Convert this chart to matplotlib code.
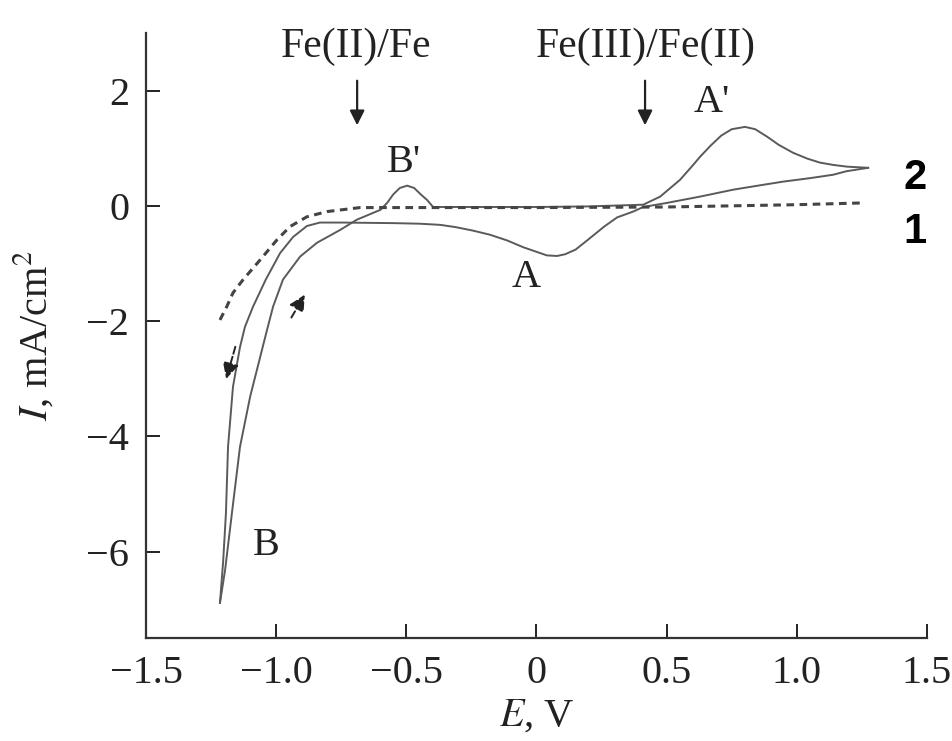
import matplotlib
matplotlib.use("Agg")
import matplotlib.pyplot as plt

plt.rcParams['font.family'] = ['Liberation Serif', 'DejaVu Serif']
plt.rcParams['mathtext.fontset'] = 'stix'

# curve 1: background electrolyte (dashed)
e1 = [-1.216, -1.19, -1.166, -1.127, -1.062, -0.997, -0.947, -0.882, -0.805,
      -0.678, -0.3, 0.0, 0.5, 1.0, 1.25]
i1 = [-1.98, -1.75, -1.51, -1.28, -0.94, -0.59, -0.36, -0.19, -0.1,
      -0.03, -0.03, -0.03, -0.02, 0.02, 0.05]

# curve 2: cathodic scan (from the right vertex down to B)
e2_cat = [1.274, 1.19, 1.14, 1.05, 0.947, 0.85, 0.755, 0.628, 0.5, 0.41, 0.371,
          0.31, 0.26, 0.2, 0.15, 0.11, 0.079, 0.04, 0.014, -0.05, -0.113, -0.18,
          -0.244, -0.31, -0.37, -0.45, -0.55, -0.75, -0.832, -0.882, -0.935,
          -0.985, -1.04, -1.089, -1.12, -1.139, -1.166, -1.185, -1.193, -1.204,
          -1.216]
i2_cat = [0.66, 0.6, 0.54, 0.48, 0.42, 0.35, 0.28, 0.16, 0.05, -0.02, -0.1,
          -0.2, -0.36, -0.58, -0.76, -0.84, -0.87, -0.86, -0.82, -0.72, -0.6, -0.5,
          -0.43, -0.37, -0.33, -0.31, -0.3, -0.29, -0.29, -0.35, -0.54,
          -0.82, -1.28, -1.75, -2.1, -2.45, -3.14, -4.18, -5.33, -6.19,
          -6.89]

# curve 2: anodic scan (from B back to the right vertex)
e2_an = [-1.216, -1.196, -1.17, -1.139, -1.1, -1.035, -1.012, -0.974, -0.908,
         -0.843, -0.755, -0.69, -0.6, -0.574, -0.55, -0.525, -0.497, -0.47,
         -0.445, -0.42, -0.397, -0.2, 0.0, 0.2, 0.41, 0.475, 0.551, 0.6, 0.628,
         0.67, 0.71, 0.75, 0.801, 0.84, 0.886, 0.93, 0.986, 1.04, 1.089, 1.14,
         1.193, 1.274]
i2_an = [-6.89, -6.31, -5.33, -4.18, -3.31, -2.15, -1.75, -1.28, -0.88,
         -0.64, -0.42, -0.24, -0.07, 0.05, 0.2, 0.31, 0.35, 0.31,
         0.2, 0.1, -0.02, -0.02, -0.02, -0.01, 0.02, 0.16, 0.45, 0.7, 0.85,
         1.05, 1.22, 1.33, 1.37, 1.33, 1.2, 1.06, 0.92, 0.82, 0.75, 0.71,
         0.68, 0.66]

xticks = [-1.5, -1.0, -0.5, 0, 0.5, 1.0, 1.5]
xticklabels = ['\u22121.5', '\u22121.0', '\u22120.5', '0', '0.5', '1.0', '1.5']
yticks = [-6, -4, -2, 0, 2]
yticklabels = ['\u22126', '\u22124', '\u22122', '0', '2']

fig = plt.figure(figsize=(9.52, 7.41), dpi=100)
ax = fig.add_axes([0.1534, 0.139, 0.8203, 0.8165])

ax.plot(e2_cat, i2_cat, color='#5a5a5a', lw=1.4)
ax.plot(e2_an, i2_an, color='#5a5a5a', lw=1.4)
ax.plot(e1, i1, color='#444444', lw=2.2, ls=(0, (2.5, 1.8)))

ax.set_xlim(-1.5, 1.5)
ax.set_ylim(-7.5, 3.0)
ax.set_xticks(xticks)
ax.set_xticklabels(xticklabels)
ax.set_yticks(yticks)
ax.set_yticklabels(yticklabels)
ax.tick_params(direction='in', length=10, width=1.4, labelsize=29,
               pad=12, colors='#222222')
for s in ['top', 'right']:
    ax.spines[s].set_visible(False)
for s in ['left', 'bottom']:
    ax.spines[s].set_linewidth(1.6)
    ax.spines[s].set_color('#333333')

ax.set_xlabel(r'$E$, V', fontsize=29, color='#222222', labelpad=4)
ax.set_ylabel(r'$I$, mA/cm$^2$', fontsize=29, color='#222222', labelpad=22)

# redox couple labels with arrows
ax.text(-0.693, 2.76, 'Fe(II)/Fe', fontsize=30, ha='center', va='center',
        color='#222222', clip_on=False)
ax.text(0.421, 2.76, 'Fe(III)/Fe(II)', fontsize=30, ha='center', va='center',
        color='#222222', clip_on=False)
for xa in [-0.689, 0.417]:
    ax.annotate('', xy=(xa, 1.35), xytext=(xa, 2.22),
                arrowprops=dict(arrowstyle='-|>', color='#222222', lw=1.6,
                                mutation_scale=22))

# peak labels
ax.text(-0.509, 0.75, "B'", fontsize=29, ha='center', va='center', color='#222222')
ax.text(0.674, 1.79, "A'", fontsize=29, ha='center', va='center', color='#222222')
ax.text(-0.04, -1.25, 'A', fontsize=29, ha='center', va='center', color='#222222')
ax.text(-1.039, -5.9, 'B', fontsize=29, ha='center', va='center', color='#222222')

# scan direction arrows
ax.annotate('', xy=(-1.195, -3.05), xytext=(-1.154, -2.4),
            arrowprops=dict(arrowstyle='-|>', color='#222222', lw=1.4,
                            ls='--', mutation_scale=24))
ax.annotate('', xy=(-0.885, -1.5), xytext=(-0.947, -1.98),
            arrowprops=dict(arrowstyle='-|>', color='#222222', lw=1.4,
                            ls='--', mutation_scale=24))

# curve numbers
ax.text(1.454, 0.49, '2', fontsize=30, fontweight='bold', family='Liberation Sans',
        ha='center', va='center', clip_on=False)
ax.text(1.454, -0.45, '1', fontsize=30, fontweight='bold', family='Liberation Sans',
        ha='center', va='center', clip_on=False)

fig.savefig('out.png', dpi=100)
